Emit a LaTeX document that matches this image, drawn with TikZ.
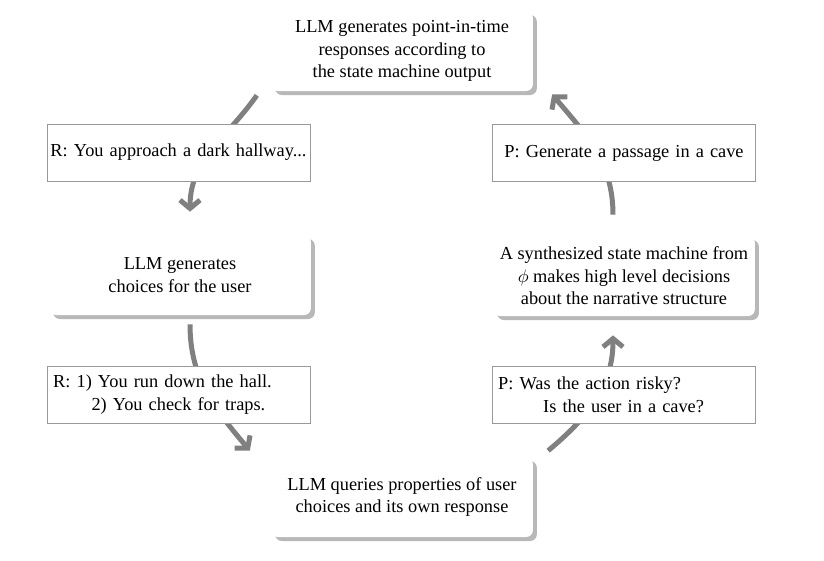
\documentclass[tikz,border=0pt]{standalone}
\usepackage{amsmath,amssymb}
\usepackage{fontspec}
\setmainfont{Liberation Serif}
\usetikzlibrary{shadows,arrows.meta}
\colorlet{loopgray}{black!50}
\colorlet{shadegray}{black!28}
\colorlet{framegray}{black!40}

\begin{document}
\begin{tikzpicture}[x=0.6pt,y=-0.6pt,
    card/.style={fill=white, rounded corners=4pt, minimum width=157pt, minimum height=48pt,
        inner sep=3pt, align=center, font=\fontsize{11}{13.5}\selectfont,
        drop shadow={shadow xshift=2.4pt, shadow yshift=-2.4pt, fill=shadegray, opacity=1}},
    query/.style={draw=framegray, fill=white, minimum width=158pt, minimum height=34pt,
        inner xsep=1pt, text width=156pt, align=left, font=\fontsize{11}{13.5}\selectfont},
    loop/.style={loopgray, line width=3pt, -{Straight Barb[length=5pt,width=12pt]}}]
        \useasboundingbox[fill=white] (0,0) rectangle (824,560);
        \node[card] (respond) at (402,51) {LLM generates point-in-time\\responses according to\\the state machine output};
        \node[card] (choices) at (180,275) {LLM generates\\choices for the user};
        \node[card] (machine) at (624,276) {A synthesized state machine from\\$\phi$ makes high level decisions\\about the narrative structure};
        \node[card] (queries) at (402,497) {LLM queries properties of user\\choices and its own response};
        \draw[loop] ([xshift=-8.4pt,yshift=-2.4pt]respond.south west) to[out=235, in=90] ([xshift=6pt,yshift=13.8pt]choices.north);
        \draw[loop] ([xshift=6pt,yshift=-5.4pt]choices.south) to[out=-90, in=130] ([xshift=-12.6pt,yshift=3.6pt]queries.north west);
        \draw[loop] ([xshift=9pt,yshift=3.6pt]queries.north east) to[out=40, in=-90] ([xshift=-6.6pt,yshift=-11.4pt]machine.south);
        \draw[loop] ([xshift=-6.6pt,yshift=12.6pt]machine.north) to[out=90, in=-50] ([xshift=11.4pt,yshift=-1.8pt]respond.south east);
        \node[query, align=center] (rhall) at (178.5,152.5) {R: You approach a dark hallway...};
        \node[query, align=center] (pcave) at (624,153) {P: Generate a passage in a cave};
        \node[query, inner xsep=3.5pt, text width=151pt] (rrun) at (179,394.5) {R: 1) You run down the hall.\\\hspace*{23pt}2) You check for traps.};
        \node[query, inner xsep=3.5pt, text width=151pt] (prisk) at (624,395) {P: Was the action risky?\\\hspace*{27pt}Is the user in a cave?};
\end{tikzpicture}
\end{document}
